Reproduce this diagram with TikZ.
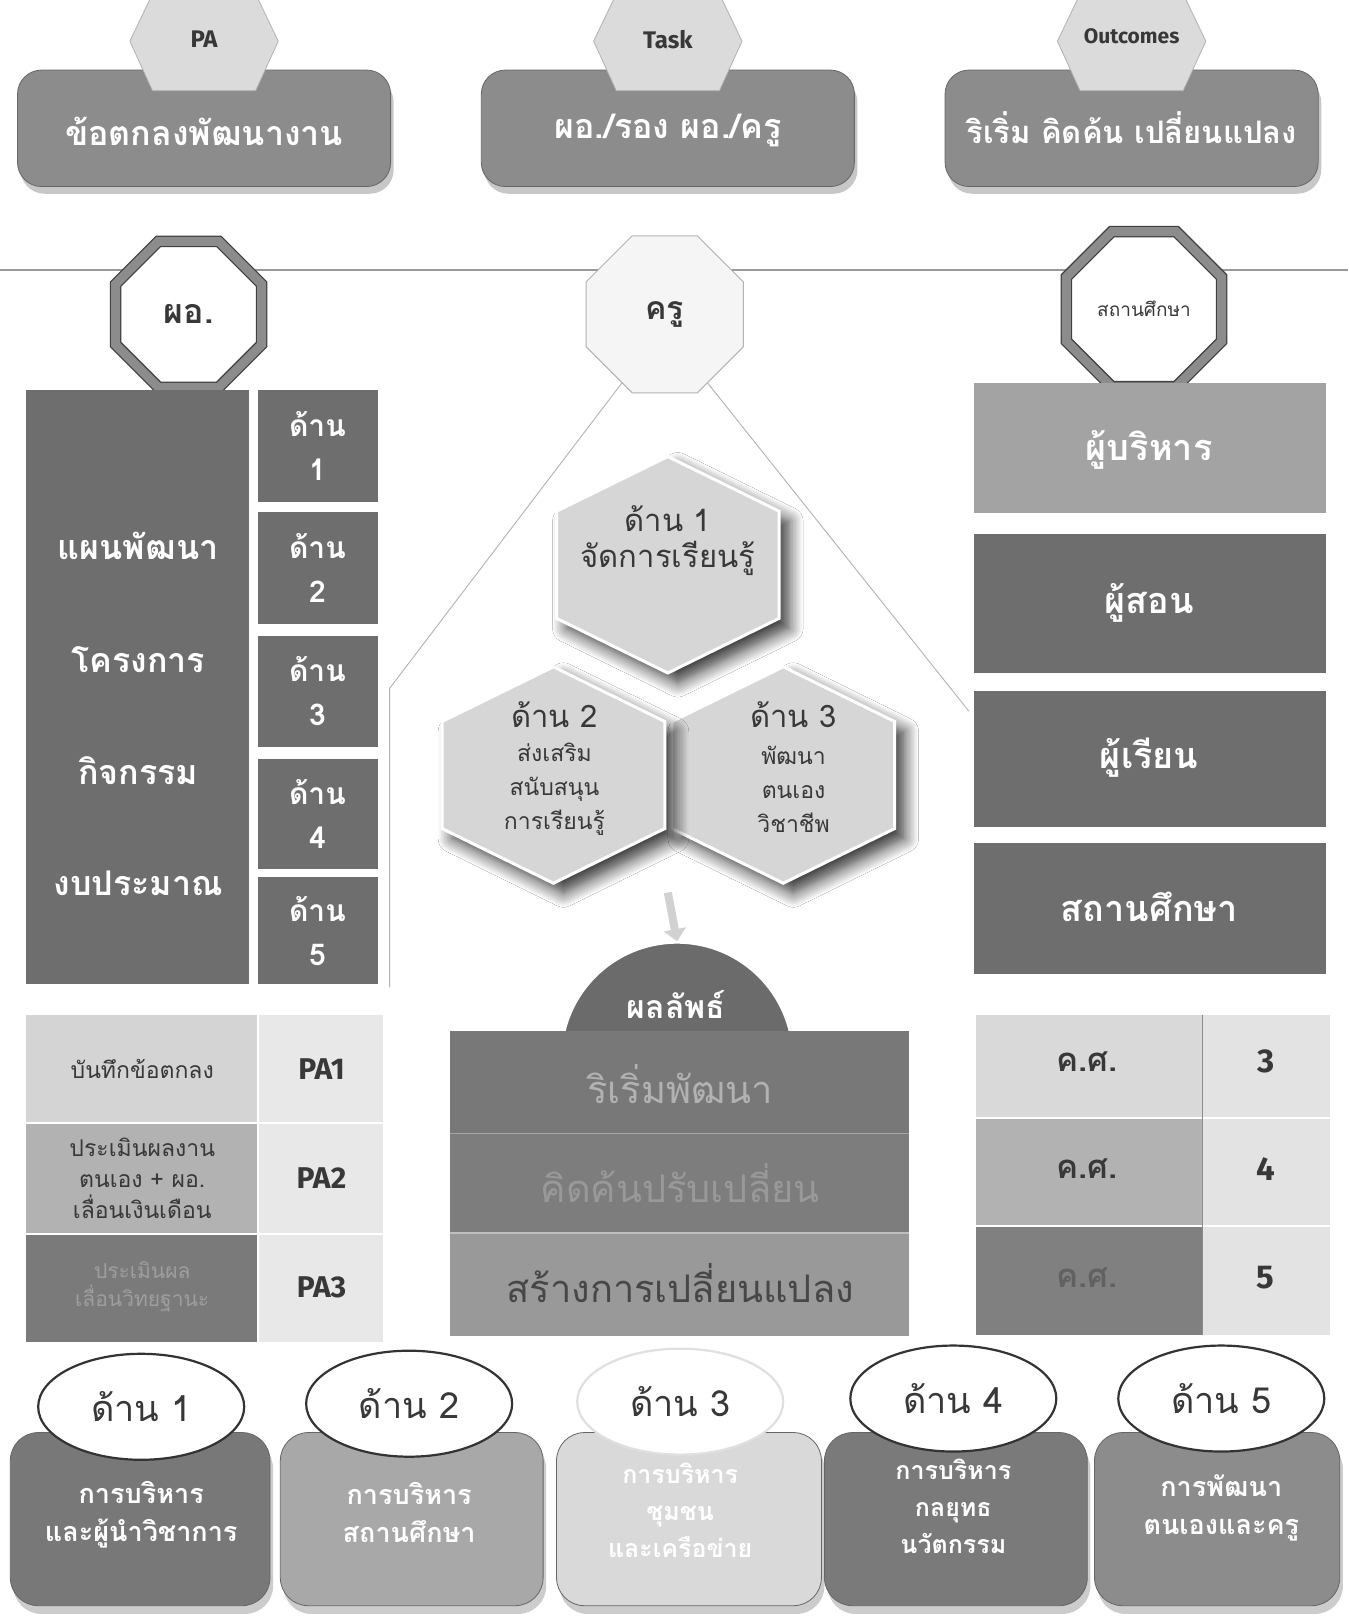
\documentclass[tikz,border=0pt]{standalone}
\usepackage{fontspec}
\setmainfont[Script=Thai]{Loma}
\newfontfamily\latin{Fira Sans}
\usetikzlibrary{shapes.geometric,shadows.blur,arrows.meta}
\definecolor{cTop}{gray}{0.55}
\definecolor{cTab}{gray}{0.86}
\definecolor{cDark}{gray}{0.43}
\definecolor{cPale}{gray}{0.90}
\definecolor{cHex}{gray}{0.84}
\definecolor{cTxt}{gray}{0.22}
\newcommand\fs[2]{\fontsize{#1}{#2}\selectfont}
\newcommand\topunit[1]{%
  \fill[black!22,rounded corners=24pt] ({#1-178},76) rectangle ({#1+184},188);
  \filldraw[fill=cTop,draw=black!60,line width=0.8pt,rounded corners=24pt] ({#1-181},68) rectangle ({#1+181},181);
  \filldraw[fill=cTab,draw=black!30,line width=0.8pt] ({#1-50},-6) -- ({#1+50},-6) -- ({#1+72},40) -- ({#1+50},88) -- ({#1-50},88) -- ({#1-72},40) -- cycle;}
\newcommand\hexp[2]{({#1-108},{#2-52}) -- (#1,{#2-105}) -- ({#1+108},{#2-52}) -- ({#1+108},{#2+52}) -- (#1,{#2+105}) -- ({#1-108},{#2+52}) -- cycle}
\newcommand\botunit[3]{% left right fill
  \fill[black!20,rounded corners=28pt] ({#1+3},1398) rectangle ({#2+3},1566);
  \filldraw[fill=#3,draw=black!60,line width=0.8pt,rounded corners=28pt] (#1,1390) rectangle (#2,1558);}
\begin{document}
\begin{tikzpicture}[x=1.0306pt,y=-1.0306pt,
  every node/.style={inner sep=0pt,align=center},
  wt/.style={text=white,font=\bfseries\fs{34}{40}},
  latb/.style={font=\latin\bfseries\fs{24}{28},text=cTxt},
  oct/.style={regular polygon,regular polygon sides=8},
  hexsty/.style={fill=cHex,draw=white,line width=3pt,blur shadow={shadow xshift=10pt,shadow yshift=-10pt,shadow blur radius=14pt,shadow blur steps=10,shadow opacity=80}},
  ell/.style={ellipse,minimum width=206pt,minimum height=106pt,fill=white,draw=black!80,line width=2.2pt,text=cTxt,font=\fs{36}{40}},
  bt/.style={text=white,font=\bfseries\fs{27}{38}},
]
\useasboundingbox (0,0) rectangle (1308,1568);
\fill[white] (0,0) rectangle (1308,1568);

% ---------- top row ----------
\topunit{198}
\topunit{648}
\topunit{1098}
\node[wt] (pa) at (198,127) {ข้อตกลงพัฒนางาน};
\node[latb] (patab) at (198,38) {PA};
\node[wt] (task) at (648,127) {ผอ./รอง ผอ./ครู};
\node[latb] (tasktab) at (648,38) {Task};
\node[wt,font=\bfseries\fs{31}{36}] (out) at (1098,124) {ริเริ่ม คิดค้น เปลี่ยนแปลง};
\node[latb,font=\latin\bfseries\fs{21}{24}] (outtab) at (1098,35) {Outcomes};

\draw[black!40,line width=1.2pt] (0,262) -- (1308,262);

% ---------- octagons ----------
\node[oct,minimum size=158pt,fill=white,draw=black!75,double=black!45,double distance=9pt,line width=1.3pt,font=\bfseries\fs{34}{40},text=cTxt] (po) at (183,305) {ผอ.};
\node[oct,minimum size=170pt,fill=black!4,draw=black!30,line width=1pt,font=\bfseries\fs{32}{38},text=cTxt] (kru) at (645,305) {ครู};
\node[oct,minimum size=168pt,fill=white,draw=black!75,double=black!45,double distance=9pt,line width=1.3pt,font=\fs{19}{22},text=cTxt] (sk) at (1110,300) {สถานศึกษา};

% ---------- left column ----------
\fill[cDark] (25,378) rectangle (242,955);
\node[wt] (l1) at (134,530) {แผนพัฒนา};
\node[wt] (l2) at (134,640) {โครงการ};
\node[wt] (l3) at (134,748) {กิจกรรม};
\node[wt] (l4) at (134,857) {งบประมาณ};
\foreach \i/\a/\b in {1/378/487,2/497/605,3/617/725,4/736/843,5/851/955}{
  \fill[cDark] (250,\a) rectangle (367,\b);
  \node[wt,font=\bfseries\fs{30}{44}] (d\i) at (308,{(\a+\b)/2}) {ด้าน\\\i};
}

% ---------- centre ----------
\coordinate (hl) at (378,668);
\coordinate (hlb) at (378,958);
\coordinate (hr) at (940,690);
\draw[black!30,line width=0.9pt] (kru.238) -- (hl) -- (hlb);
\draw[black!30,line width=0.9pt] (kru.302) -- (hr);
\path[hexsty] \hexp{760}{752};
\path[hexsty] \hexp{537}{752};
\path[hexsty] \hexp{648}{548};
\node[text=cTxt,font=\fs{31}{36}] (h1) at (648,525) {ด้าน 1\\จัดการเรียนรู้};
\node[text=cTxt,font=\fs{31}{36}] (h2a) at (538,693) {ด้าน 2};
\node[text=cTxt,font=\fs{23}{34}] (h2) at (538,766) {ส่งเสริม\\สนับสนุน\\การเรียนรู้};
\node[text=cTxt,font=\fs{31}{36}] (h3a) at (770,693) {ด้าน 3};
\node[text=cTxt,font=\fs{23}{34}] (h3) at (770,766) {พัฒนา\\ตนเอง\\วิชาชีพ};

\node[circle,minimum size=232pt,fill=black!58,draw=white,line width=2.5pt] (dome) at (657,1027) {};
\coordinate (ar) at (648,866);
\draw[black!18,line width=8pt,-{Triangle[length=12pt,width=22pt]}] (ar) -- (dome.north);
\node[text=white,font=\bfseries\fs{32}{36}] (res) at (656,975) {ผลลัพธ์};
\fill[black!53] (437,1000) rectangle (882,1100);
\fill[black!51] (437,1100) rectangle (882,1196);
\fill[black!40] (437,1196) rectangle (882,1296);
\draw[black!35,line width=1.5pt] (437,1100) -- (882,1100);
\draw[black!25,line width=2pt] (437,1196) -- (882,1196);
\node[text=black!30,font=\fs{38}{42}] (r1) at (660,1052) {ริเริ่มพัฒนา};
\node[text=black!40,font=\fs{38}{42}] (r2) at (660,1148) {คิดค้นปรับเปลี่ยน};
\node[text=black!72,font=\fs{38}{42}] (r3) at (660,1245) {สร้างการเปลี่ยนแปลง};

% ---------- right column ----------
\fill[black!36] (945,372) rectangle (1287,498);
\fill[cDark] (945,518) rectangle (1287,653);
\fill[cDark] (945,670) rectangle (1287,802);
\fill[cDark] (945,818) rectangle (1287,945);
\node[wt,font=\bfseries\fs{36}{40}] (rb1) at (1115,437) {ผู้บริหาร};
\node[wt,font=\bfseries\fs{36}{40}] (rb2) at (1115,585) {ผู้สอน};
\node[wt,font=\bfseries\fs{36}{40}] (rb3) at (1115,735) {ผู้เรียน};
\node[wt,font=\bfseries\fs{36}{40}] (rb4) at (1115,880) {สถานศึกษา};

% ---------- PA table ----------
\fill[black!17] (25,985) rectangle (250,1090);
\fill[black!30] (25,1090) rectangle (250,1197);
\fill[black!52] (25,1197) rectangle (250,1302);
\fill[black!9] (250,985) rectangle (372,1302);
\draw[white,line width=2pt] (25,1090) -- (372,1090) (25,1197) -- (372,1197) (250,985) -- (250,1302);
\node[text=cTxt,font=\fs{23}{30}] (p1) at (138,1037) {บันทึกข้อตกลง};
\node[text=cTxt,font=\fs{23}{31}] (p2) at (138,1143) {ประเมินผลงาน\\ตนเอง + ผอ.\\เลื่อนเงินเดือน};
\node[text=black!38,font=\fs{21}{28}] (p3) at (138,1249) {ประเมินผล\\เลื่อนวิทยฐานะ};
\node[latb,font=\latin\bfseries\fs{30}{34}] (pa1) at (312,1037) {PA1};
\node[latb,font=\latin\bfseries\fs{30}{34}] (pa2) at (312,1143) {PA2};
\node[latb,font=\latin\bfseries\fs{30}{34}] (pa3) at (312,1249) {PA3};

% ---------- year table ----------
\fill[black!15] (947,985) rectangle (1167,1085);
\fill[black!30] (947,1085) rectangle (1167,1190);
\fill[black!50] (947,1190) rectangle (1167,1295);
\fill[black!11] (1167,985) rectangle (1290,1295);
\draw[white,line width=2pt] (947,1085) -- (1290,1085) (947,1190) -- (1290,1190);
\draw[black!45,line width=1pt] (1167,985) -- (1167,1295);
\node[text=cTxt,font=\bfseries\fs{33}{38}] (k1) at (1055,1030) {ค.ศ.};
\node[text=cTxt,font=\bfseries\fs{33}{38}] (k2) at (1055,1134) {ค.ศ.};
\node[text=black!62,font=\bfseries\fs{33}{38}] (k3) at (1055,1240) {ค.ศ.};
\node[latb,font=\latin\bfseries\fs{33}{38}] (y3) at (1228,1030) {3};
\node[latb,font=\latin\bfseries\fs{33}{38}] (y4) at (1228,1134) {4};
\node[latb,font=\latin\bfseries\fs{33}{38}] (y5) at (1228,1240) {5};

% ---------- bottom row ----------
\botunit{10}{262}{black!53}
\botunit{272}{527}{black!34}
\botunit{540}{797}{black!15}
\botunit{800}{1055}{black!52}
\botunit{1062}{1300}{black!45}
\node[ell] (e1) at (137,1365) {ด้าน 1};
\node[ell] (e2) at (397,1362) {ด้าน 2};
\node[ell,draw=black!12] (e3) at (660,1360) {ด้าน 3};
\node[ell] (e4) at (925,1357) {ด้าน 4};
\node[ell] (e5) at (1185,1357) {ด้าน 5};
\node[bt] (b1) at (137,1470) {การบริหาร\\และผู้นำวิชาการ};
\node[bt] (b2) at (397,1468) {การบริหาร\\สถานศึกษา};
\node[bt,font=\bfseries\fs{25}{37}] (b3) at (660,1465) {การบริหาร\\ชุมชน\\และเครือข่าย};
\node[bt,font=\bfseries\fs{25}{37}] (b4) at (925,1462) {การบริหาร\\กลยุทธ\\นวัตกรรม};
\node[bt] (b5) at (1185,1463) {การพัฒนา\\ตนเองและครู};
\end{tikzpicture}
\end{document}
